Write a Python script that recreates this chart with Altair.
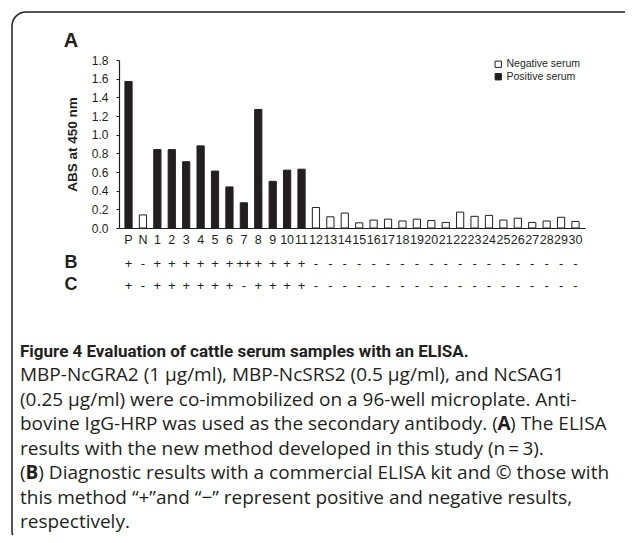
import altair as alt
import pandas as pd

categories = ["P", "N"] + [str(i) for i in range(1, 31)]
abs_values = [1.57, 0.14, 0.84, 0.84, 0.71, 0.88, 0.61, 0.44, 0.27, 1.27, 0.50, 0.62, 0.63,
              0.22, 0.12, 0.16, 0.055, 0.085, 0.095, 0.075, 0.095, 0.08, 0.06, 0.17, 0.125,
              0.135, 0.085, 0.105, 0.06, 0.075, 0.115, 0.07]
serum = ["Positive serum", "Negative serum"] + ["Positive serum"] * 11 + ["Negative serum"] * 19
row_b = ["+", "-"] + ["+"] * 6 + ["++"] + ["+"] * 4 + ["-"] * 19
row_c = ["+", "-"] + ["+"] * 6 + ["-"] + ["+"] * 4 + ["-"] * 19

caption_title = "Figure 4 Evaluation of cattle serum samples with an ELISA."
# each caption line as segments of (text, bold)
caption_lines = [
    [("MBP-NcGRA2 (1 \u03bcg/ml), MBP-NcSRS2 (0.5 \u03bcg/ml), and NcSAG1", False)],
    [("(0.25 \u03bcg/ml) were co-immobilized on a 96-well microplate. Anti-", False)],
    [("bovine IgG-HRP was used as the secondary antibody. (", False), ("A", True), (") The ELISA", False)],
    [("results with the new method developed in this study (n\u2009=\u20093).", False)],
    [("(", False), ("B", True), (") Diagnostic results with a commercial ELISA kit and \u00a9 those with", False)],
    [("this method \u201c+\u201dand \u201c\u2212\u201d represent positive and negative results,", False)],
    [("respectively.", False)],
]
# approximate segment advances (pixels) for Open Sans 19px, used to place bold letters
segment_offsets = [
    [0],
    [0],
    [0, 477.6, 490.1],
    [0],
    [0, 5.6, 18.3],
    [0],
    [0],
]

INK = "#231f20"
FONT = "Liberation Sans"
CAP_FONT = "Open Sans"
CAP_SIZE = 19
CAP_X = -99
CAP_Y0 = 321
CAP_LH = 24.5

df = pd.DataFrame({"cat": categories, "val": abs_values, "serum": serum,
                   "b": row_b, "c": row_c})

xscale = alt.Scale(domain=categories, paddingInner=0.5, paddingOuter=0.41)
xenc = alt.X("cat:N", scale=xscale, sort=categories,
             axis=alt.Axis(title=None, labelAngle=0, ticks=False, labelFontSize=12.5,
                           labelFont=FONT, labelColor=INK, labelPadding=5,
                           labelOverlap=False, labelBound=False, labelFlush=False,
                           domainColor=INK, domainWidth=1.2))

base = alt.Chart(df)

bars = base.mark_bar(stroke=INK, strokeWidth=1).encode(
    x=xenc,
    y=alt.Y("val:Q", scale=alt.Scale(domain=[0, 1.8], nice=False),
            axis=alt.Axis(title="ABS at 450 nm", values=[0, 0.2, 0.4, 0.6, 0.8, 1.0, 1.2, 1.4, 1.6, 1.8],
                          format=".1f", grid=False, tickSize=3, tickColor=INK, domainColor=INK,
                          domainWidth=1.2, labelFontSize=12, labelFont=FONT, labelColor=INK,
                          labelPadding=8, titleFont=FONT, titleFontSize=13.5, titleFontWeight="bold",
                          titleColor=INK, titlePadding=12)),
    fill=alt.Fill("serum:N", scale=alt.Scale(domain=["Negative serum", "Positive serum"],
                                              range=["white", INK]),
                  legend=alt.Legend(title=None, orient="none", legendX=374, legendY=-1,
                                    symbolType="square", symbolSize=40, symbolStrokeColor=INK,
                                    symbolStrokeWidth=1, labelFontSize=10.5, labelFont=FONT,
                                    labelColor=INK, labelOffset=3, rowPadding=1.5, padding=0)),
)

b_text = base.mark_text(fontSize=13, font=FONT, color=INK, baseline="alphabetic").encode(
    x=alt.X("cat:N", scale=xscale, sort=categories), y=alt.value(208), text="b:N")
c_text = base.mark_text(fontSize=13, font=FONT, color=INK, baseline="alphabetic").encode(
    x=alt.X("cat:N", scale=xscale, sort=categories), y=alt.value(230), text="c:N")


def label(txt, x, y, size=20):
    return alt.Chart(pd.DataFrame({"t": [txt]})).mark_text(
        fontSize=size, fontWeight="bold", font=FONT, color=INK, align="center",
        baseline="alphabetic").encode(x=alt.value(x), y=alt.value(y), text="t:N")


lab_a = label("A", -48, -13, 20)
lab_b = label("B", -48, 208, 18)
lab_c = label("C", -48, 230, 18)

border = alt.Chart(pd.DataFrame({"t": [0]})).mark_rect(
    cornerRadius=14, fill="white", fillOpacity=0, stroke=INK, strokeWidth=1.5).encode(
    x=alt.value(-107), x2=alt.value(540), y=alt.value(-48), y2=alt.value(485))

cap_title = alt.Chart(pd.DataFrame({"t": [caption_title]})).mark_text(
    align="left", baseline="alphabetic", fontSize=17, fontWeight="bold", font="Roboto",
    color=INK).encode(x=alt.value(CAP_X), y=alt.value(297), text="t:N")

cap_layers = []
for i, (segs, offs) in enumerate(zip(caption_lines, segment_offsets)):
    for (txt, bold), off in zip(segs, offs):
        cap_layers.append(
            alt.Chart(pd.DataFrame({"t": [txt]})).mark_text(
                align="left", baseline="alphabetic", fontSize=CAP_SIZE, font=CAP_FONT,
                fontWeight="bold" if bold else "normal", color=INK).encode(
                x=alt.value(CAP_X + off), y=alt.value(CAP_Y0 + i * CAP_LH), text="t:N"))

chart = alt.layer(border, bars, b_text, c_text, lab_a, lab_b, lab_c, cap_title, *cap_layers).properties(
    width=466, height=168,
    autosize=alt.AutoSizeParams(type="none"),
    padding={"left": 111, "top": 52, "right": 40, "bottom": 307},
    background="white",
).configure_view(stroke=None)

chart.save("out.html", embed_options={"renderer": "svg", "actions": False})
